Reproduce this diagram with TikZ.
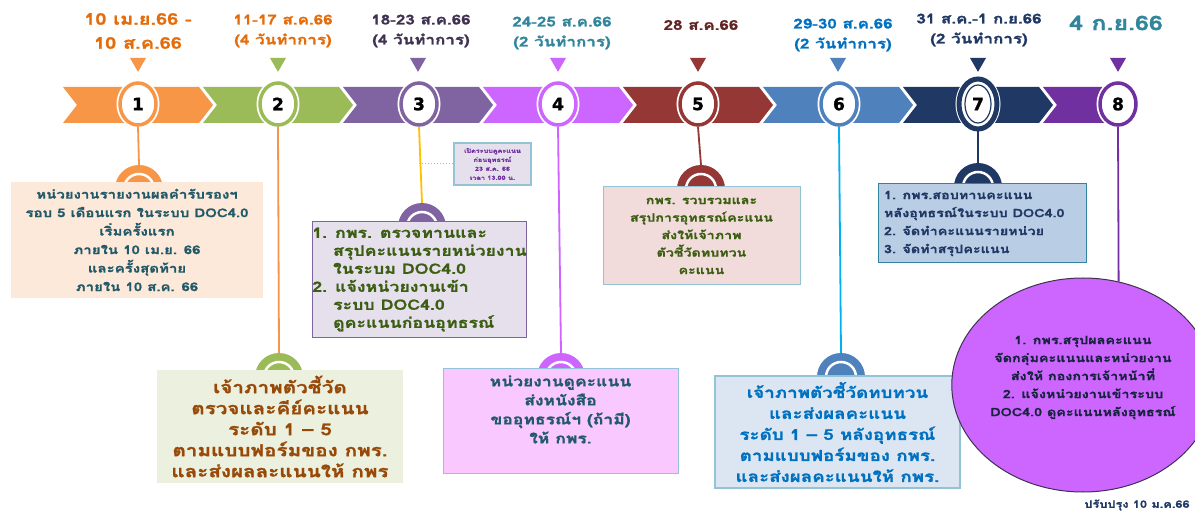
\documentclass[tikz,border=0pt]{standalone}
\usepackage{fontspec}
\setmainfont[Script=Thai, FakeStretch=1.25, BoldFeatures={FakeBold=1.2}]{Loma}
\newfontfamily\numf[FakeBold=1.5]{DejaVu Sans}
\usetikzlibrary{shapes.geometric}
\definecolor{c1}{HTML}{F79646}
\definecolor{c2}{HTML}{9BBB59}
\definecolor{c3}{HTML}{8064A2}
\definecolor{c4}{HTML}{CC66FF}
\definecolor{c5}{HTML}{953735}
\definecolor{c6}{HTML}{4F81BD}
\definecolor{c7}{HTML}{1F3864}
\definecolor{c8}{HTML}{7030A0}
\definecolor{l1}{HTML}{E46C0A}
\definecolor{l3}{HTML}{3F3151}
\definecolor{l4}{HTML}{31859C}
\definecolor{l5}{HTML}{632523}
\definecolor{l6}{HTML}{0070C0}
\definecolor{teal}{HTML}{215968}
\definecolor{brown}{HTML}{984807}
\definecolor{olive}{HTML}{3B5E12}
\definecolor{yel}{HTML}{FFC000}
\definecolor{sky}{HTML}{00B0F0}
\definecolor{f1}{HTML}{FDE9D9}
\definecolor{f2}{HTML}{EBF1DE}
\definecolor{f3}{HTML}{E6E0EC}
\definecolor{f4}{HTML}{F9C8FF}
\definecolor{f5}{HTML}{F2DCDB}
\definecolor{f6}{HTML}{DCE6F2}
\definecolor{f7}{HTML}{B9CDE5}
\definecolor{bd}{HTML}{93C4D6}
\definecolor{navy}{HTML}{17233F}
\newcommand{\fs}[2]{\fontsize{#1}{#2}\selectfont}
\newcommand{\hang}{\hphantom{1.}\ }
\tikzset{
  numcirc/.style={ellipse, fill=white, line width=3.5pt, minimum width=36pt, minimum height=42pt, inner sep=0pt,
    font=\numf\bfseries\fs{17}{17}, preaction={draw=white,line width=7pt}},
  tri/.style={regular polygon, regular polygon sides=3, shape border rotate=180, minimum size=18.5pt, inner sep=0pt},
  halfc/.style={circle, minimum size=48pt, inner sep=0pt,
    path picture={\draw[white,line width=2.5pt] (path picture bounding box.center) circle (15pt);}},
  toplab/.style={align=center, inner sep=0pt, font=\bfseries\fs{13.6}{20}},
  box/.style={rectangle, inner sep=0pt, align=center, font=\bfseries\fs{12}{18.5}},
  conn/.style={line width=1.8pt},
}
\begin{document}
\begin{tikzpicture}[x=1pt,y=-1pt]
\useasboundingbox (0,0) rectangle (1195,513);
\fill[white] (0,0) rectangle (1195,513);
% arrow band
\foreach \i/\c in {1/c1,2/c2,3/c3,4/c4,5/c5,6/c6,7/c7}{
  \pgfmathsetmacro\s{63+140*(\i-1)}
  \fill[\c] (\s,87) -- ++(136,0) -- ++(14,18) -- ++(-14,18) -- ++(-136,0) -- ++(14,-18) -- cycle;
}
\fill[c8] (1043,87) -- (1118,87) -- (1118,123) -- (1043,123) -- (1057,105) -- cycle;
% triangles
\foreach \i/\c in {1/c1,2/c2,3/c3,4/c4,5/c5,6/c6,7/c7,8/c8}{
  \node[tri, fill=\c] (v\i) at ({138+140*(\i-1)},62.6) {};
}
% number circles
\node[numcirc, draw=c1] (m1) at (138,104) {1};
\node[numcirc, draw=c2] (m2) at (278,104) {2};
\node[numcirc, draw=c3] (m3) at (419,104) {3};
\node[numcirc, draw=c4] (m4) at (558,104) {4};
\node[numcirc, draw=c5] (m5) at (698,104) {5};
\node[numcirc, draw=c6] (m6) at (839,104) {6};
\node[numcirc, draw=c7, line width=5pt, minimum width=38pt, minimum height=50pt,
  path picture={\draw[c7,line width=1.2pt] (path picture bounding box.center) ellipse (13pt and 19pt);}] (m7) at (978,104) {7};
\node[numcirc, draw=c8] (m8) at (1118,104) {8};
% top labels
\node[toplab, text=l1, font=\bfseries\fs{16}{24}] (t1) at (138,31) {10 เม.ย.66 -\\10 ส.ค.66};
\node[toplab, text=l1] (t2) at (283,31) {11-17 ส.ค.66\\(4 วันทำการ)};
\node[toplab, text=l3] (t3) at (421,31) {18-23 ส.ค.66\\(4 วันทำการ)};
\node[toplab, text=l4] (t4) at (562,33) {24-25 ส.ค.66\\(2 วันทำการ)};
\node[toplab, text=l5] (t5) at (701,25) {28 ส.ค.66};
\node[toplab, text=l6] (t6) at (843,35) {29-30 ส.ค.66\\(2 วันทำการ)};
\node[toplab, text=c7] (t7) at (979,30) {31 ส.ค.-1 ก.ย.66\\(2 วันทำการ)};
\node[toplab, text=l4, font=\bfseries\fs{20}{24}] (t8) at (1116,23) {4 ก.ย.66};
% half circles
\node[halfc, fill=c1] (h1) at (139,189) {};
\node[halfc, fill=c2] (h2) at (279,377) {};
\node[halfc, fill=c3] (h3) at (422,227) {};
\node[halfc, fill=c4] (h4) at (561,377) {};
\node[halfc, fill=c5] (h5) at (701,189) {};
\node[halfc, fill=c6] (h6) at (841,377) {};
\node[halfc, fill=c7] (h7) at (978,187) {};
% connectors
\draw[conn, c1] (m1.south) -- (h1.north);
\draw[conn, c1] (m2.south) -- (h2.north);
\draw[conn, yel] (m3.south) -- (h3.north);
\draw[conn, c4] (m4.south) -- (h4.north);
\draw[conn, c5] (m5.south) -- (h5.north);
\draw[conn, sky] (m6.south) -- (h6.north);
\draw[conn, c7] (m7.south) -- (h7.north);
% boxes
\node[box, fill=f1, text=teal, minimum width=252pt, minimum height=116pt] (b1) at (137,240)
  {หน่วยงานรายงานผลคำรับรองฯ\\รอบ 5 เดือนแรก ในระบบ DOC4.0\\เริ่มครั้งแรก\\ภายใน 10 เม.ย. 66\\และครั้งสุดท้าย\\ภายใน 10 ส.ค. 66};
\node[box, fill=f2, text=brown, minimum width=246pt, minimum height=113pt, font=\bfseries\fs{16.5}{21}] (b2) at (280,426.5)
  {เจ้าภาพตัวชี้วัด\\ตรวจและคีย์คะแนน\\ระดับ 1 – 5\\ตามแบบฟอร์มของ กพร.\\และส่งผลละแนนให้ กพร};
\node[box, fill=f3, draw=c3, line width=1pt, text=olive, minimum width=201pt, minimum height=115pt, align=left, font=\bfseries\fs{14.2}{18}] (b3) at (419.5,279.5)
  {1. กพร. ตรวจทานและ\\\hang สรุปคะแนนรายหน่วยงาน\\\hang ในระบม DOC4.0\\2. แจ้งหน่วยงานเข้า\\\hang ระบบ DOC4.0\\\hang ดูคะแนนก่อนอุทธรณ์};
\node[box, fill=f3, draw=bd, line width=1.2pt, text=c8, minimum width=77pt, minimum height=42pt, font=\bfseries\fs{5.8}{9}] (n3) at (492.5,164)
  {เปิดระบบดูคะแนน\\ก่อนอุทธรณ์\\23 ส.ค. 66\\เวลา 13.00 น.};
\draw[bd, line width=1pt, dotted] (n3.west) -- (n3.west -| m3.center);
\node[box, fill=f4, draw=bd, line width=0.8pt, text=teal, minimum width=235pt, minimum height=105pt, font=\bfseries\fs{14}{19}] (b4) at (560.5,420.5)
  {\parbox[c][90pt][t]{230pt}{\centering หน่วยงานดูคะแนน\\ส่งหนังสือ\\ขออุทธรณ์ฯ (ถ้ามี)\\ให้ กพร.}};
\node[box, fill=f5, draw=bd, line width=1pt, text=olive, minimum width=197pt, minimum height=98pt, font=\bfseries\fs{11.4}{17.5}] (b5) at (701.5,236)
  {กพร. รวบรวมและ\\สรุปการอุทธรณ์คะแนน\\ส่งให้เจ้าภาพ\\ตัวชี้วัดทบทวน\\คะแนน};
\node[box, fill=f6, draw=bd, line width=1.5pt, text=l6, minimum width=245pt, minimum height=112pt, font=\bfseries\fs{15}{21}] (b6) at (837.5,432)
  {เจ้าภาพตัวชี้วัดทบทวน\\และส่งผลคะแนน\\ระดับ 1 – 5 หลังอุทธรณ์\\ตามแบบฟอร์มของ กพร.\\และส่งผลคะแนนให้ กพร.};
\node[box, fill=f7, draw=l4, line width=1pt, text=c7, minimum width=208pt, minimum height=79pt, align=left, font=\bfseries\fs{11.5}{18}] (b7) at (982,223.5)
  {\parbox{196pt}{1. กพร.สอบทานคะแนน\\หลังอุทธรณ์ในระบบ DOC4.0\\2. จัดทำคะแนนรายหน่วย\\3. จัดทำสรุปคะแนน}};
% final ellipse
\node[ellipse, fill=c4, draw=l3, line width=1pt, minimum width=220pt, minimum height=214pt, inner sep=0pt, align=center, text=navy, font=\bfseries\fs{11.5}{18}] (e8) at (1083,385)
  {1. กพร.สรุปผลคะแนน\\จัดกลุ่มคะแนนและหน่วยงาน\\ส่งให้ กองการเจ้าหน้าที่\\2. แจ้งหน่วยงานเข้าระบบ\\DOC4.0 ดูคะแนนหลังอุทธรณ์\\\mbox{}};
\draw[conn, c8] (m8.south) -- (e8.71);
\node[text=c7, font=\bfseries\fs{10.2}{14}, inner sep=0pt] (ft) at (1137,505) {ปรับปรุง 10 ม.ค.66};
\end{tikzpicture}
\end{document}
